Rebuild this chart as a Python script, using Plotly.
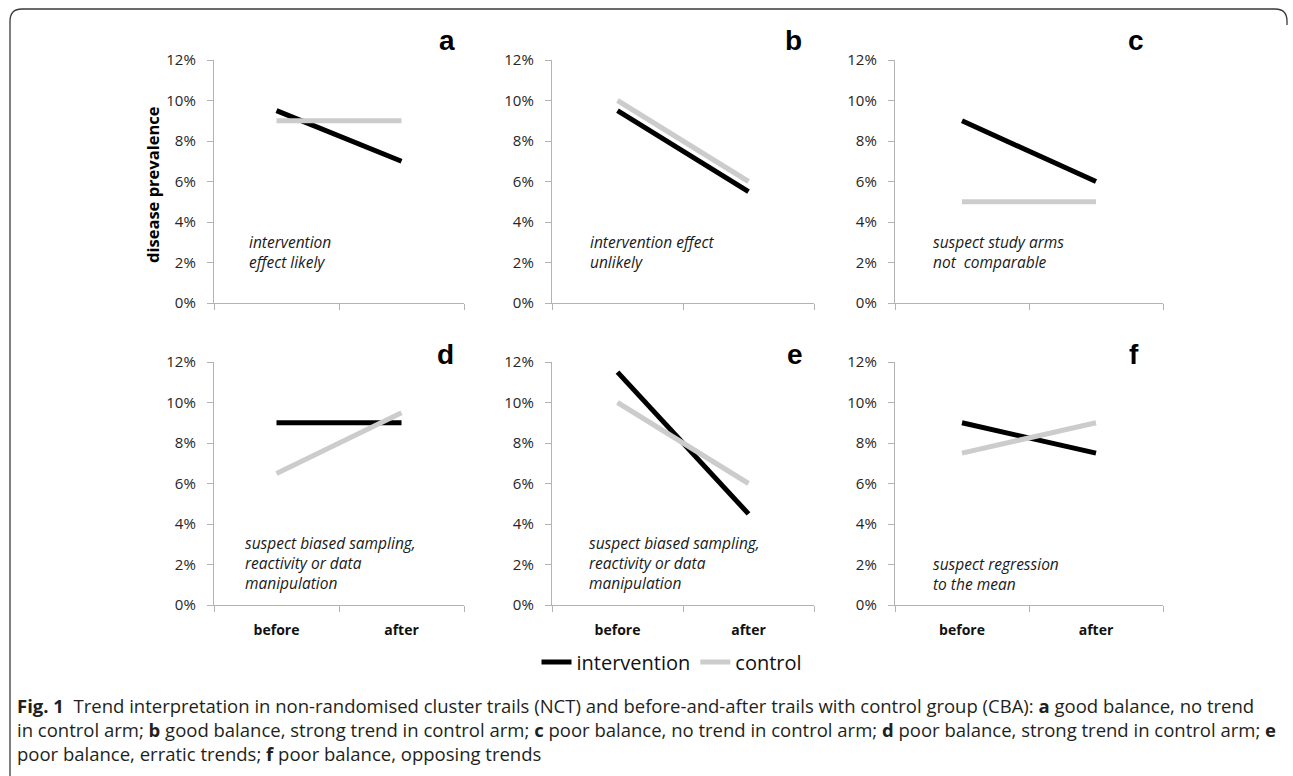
import plotly.graph_objects as go

W, H = 1293, 776

categories = ["before", "after"]
panel_letters = ["a", "b", "c", "d", "e", "f"]
intervention = [
    [0.095, 0.070],
    [0.095, 0.055],
    [0.090, 0.060],
    [0.090, 0.090],
    [0.115, 0.045],
    [0.090, 0.075],
]
control = [
    [0.090, 0.090],
    [0.100, 0.060],
    [0.050, 0.050],
    [0.065, 0.095],
    [0.100, 0.060],
    [0.075, 0.090],
]
notes = [
    "intervention<br>effect likely",
    "intervention effect<br>unlikely",
    "suspect study arms<br>not  comparable",
    "suspect biased sampling,<br>reactivity or data<br>manipulation",
    "suspect biased sampling,<br>reactivity or data<br>manipulation",
    "suspect regression<br>to the mean",
]
y_ticks = [0, 0.02, 0.04, 0.06, 0.08, 0.10, 0.12]
caption = (
    "<b>Fig. 1</b>  Trend interpretation in non-randomised cluster trails (NCT) and before-and-after trails with control group (CBA): <b>a</b> good balance, no trend<br>"
    "in control arm; <b>b</b> good balance, strong trend in control arm; <b>c</b> poor balance, no trend in control arm; <b>d</b> poor balance, strong trend in control arm; <b>e</b><br>"
    "poor balance, erratic trends; <b>f</b> poor balance, opposing trends"
)


def px(x):
    return x / W


def py(y):
    return 1 - y / H


# pixel geometry of panels
col_x = [(214, 464), (552, 814), (895, 1163)]
row_y = [(60, 303), (362, 605)]
note_pos = [(247, 229), (588, 229), (931, 229), (243, 530), (587, 530), (931, 551)]
letter_pos = [(447, 40), (793, 40), (1136, 40), (445, 355), (795, 355), (1134, 355)]

BLACK = "#000000"
GREY = "#cccccc"
AXIS = "#b3b3b3"
FONT = "Open Sans, Noto Sans, sans-serif"
TICKFONT = dict(family=FONT, size=15, color="#262626")

fig = go.Figure()
layout = {}
annotations = []

for i in range(6):
    r, c = divmod(i, 3)
    n = i + 1
    xa = "x" if n == 1 else f"x{n}"
    ya = "y" if n == 1 else f"y{n}"
    fig.add_trace(go.Scatter(
        x=categories, y=intervention[i], mode="lines",
        line=dict(color=BLACK, width=5), name="intervention",
        legendgroup="intervention", showlegend=(i == 0),
        xaxis=xa, yaxis=ya, hoverinfo="skip"))
    fig.add_trace(go.Scatter(
        x=categories, y=control[i], mode="lines",
        line=dict(color=GREY, width=5), name="control",
        legendgroup="control", showlegend=(i == 0),
        xaxis=xa, yaxis=ya, hoverinfo="skip"))
    x0, x1 = col_x[c]
    y0, y1 = row_y[r]
    layout[f"xaxis{n}" if n > 1 else "xaxis"] = dict(
        domain=[px(x0), px(x1)], anchor=ya, type="category",
        categoryorder="array", categoryarray=categories,
        range=[-0.5, 1.5], tickson="boundaries", ticks="outside",
        ticklen=6, tickcolor=AXIS, showline=True, linecolor=AXIS,
        linewidth=1.3, showgrid=False, zeroline=False,
        showticklabels=(r == 1), fixedrange=True, automargin=False,
        ticklabelstandoff=12,
        tickfont=dict(family=FONT, size=14, color="#111111", weight="bold"),
    )
    layout[f"yaxis{n}" if n > 1 else "yaxis"] = dict(
        domain=[py(y1), py(y0)], anchor=xa, range=[0, 0.12],
        tickvals=y_ticks, tickformat=".0%", ticks="outside", ticklen=6,
        tickcolor=AXIS, showline=True, linecolor=AXIS, linewidth=1.3,
        showgrid=False, zeroline=False, tickfont=TICKFONT,
        ticklabelstandoff=8, fixedrange=True, automargin=False,
    )
    nx, ny = note_pos[i]
    annotations.append(dict(
        xref="paper", yref="paper", x=px(nx), y=py(ny), xanchor="left",
        yanchor="top", align="left", showarrow=False, text=f"<i>{notes[i]}</i>",
        font=dict(family=FONT, size=15.5, color="#1a1a1a")))
    lx, ly = letter_pos[i]
    annotations.append(dict(
        xref="paper", yref="paper", x=px(lx), y=py(ly), xanchor="center",
        yanchor="middle", showarrow=False, text=f"<b>{panel_letters[i]}</b>",
        font=dict(family="Liberation Sans, Arial, sans-serif", size=28, color="#000000")))

annotations.append(dict(
    xref="paper", yref="paper", x=px(152), y=py(185), xanchor="center",
    yanchor="middle", textangle=-90, showarrow=False,
    text="<b>disease prevalence</b>",
    font=dict(family=FONT, size=16.5, color="#000000")))

annotations.append(dict(
    xref="paper", yref="paper", x=px(15), y=py(691), xanchor="left",
    yanchor="top", align="left", showarrow=False, text=caption,
    font=dict(family=FONT, size=18.5, color="#231f20")))

# rounded frame (left and top edges)
fx0, fx1, fy0, rr = 10, 1287, 9, 12
frame_path = (
    f"M {px(fx0)},{py(H)} L {px(fx0)},{py(fy0 + rr)} "
    f"Q {px(fx0)},{py(fy0)} {px(fx0 + rr)},{py(fy0)} "
    f"L {px(fx1 - rr)},{py(fy0)} "
    f"Q {px(fx1)},{py(fy0)} {px(fx1)},{py(fy0 + rr)} "
    f"L {px(fx1)},{py(fy0 + rr + 4)}"
)

fig.update_layout(
    **layout,
    annotations=annotations,
    shapes=[dict(type="path", xref="paper", yref="paper", path=frame_path,
                 line=dict(color="#3a3a3a", width=1.3))],
    width=W, height=H,
    margin=dict(l=0, r=0, t=0, b=0, pad=0, autoexpand=False),
    paper_bgcolor="white", plot_bgcolor="white",
    legend=dict(orientation="h", x=px(672), y=py(662), xanchor="center",
                yanchor="middle", font=dict(family=FONT, size=20, color="#111111"),
                itemwidth=30, tracegroupgap=0, bgcolor="rgba(0,0,0,0)"),
)

fig.write_html(
    "out.html",
    config={"displayModeBar": False},
    post_script="document.body.style.margin='0';document.body.style.overflow='hidden';",
)
